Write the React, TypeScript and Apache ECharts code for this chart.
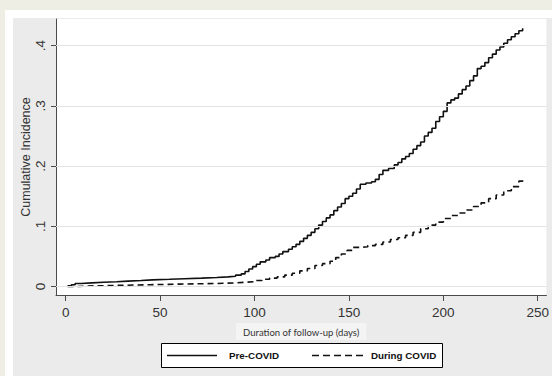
import React, { useEffect, useRef } from "react";
import * as echarts from "echarts";

// Pre-COVID cumulative incidence (day, value)
const preCovidDays = [1, 3, 5, 8, 14, 20, 27, 33, 40, 46, 55, 63, 72, 80, 86, 90, 93, 95, 97, 99, 101, 103, 106, 108, 111, 113, 115, 118, 120, 122, 124, 126, 128, 130, 132, 134, 136, 138, 140, 142, 144, 146, 148, 150, 152, 154, 156, 159, 162, 164, 166, 168, 171, 174, 176, 178, 180, 182, 184, 186, 188, 190, 192, 194, 196, 198, 200, 202, 204, 206, 208, 210, 212, 214, 216, 218, 220, 222, 224, 226, 228, 230, 232, 234, 236, 238, 240, 242];
const preCovidValues = [0.001, 0.003, 0.005, 0.006, 0.007, 0.008, 0.009, 0.010, 0.011, 0.012, 0.013, 0.014, 0.015, 0.016, 0.017, 0.019, 0.021, 0.025, 0.029, 0.033, 0.037, 0.041, 0.044, 0.048, 0.050, 0.054, 0.058, 0.062, 0.066, 0.070, 0.075, 0.080, 0.085, 0.090, 0.096, 0.102, 0.108, 0.114, 0.119, 0.126, 0.132, 0.138, 0.146, 0.150, 0.155, 0.162, 0.170, 0.172, 0.174, 0.178, 0.186, 0.193, 0.196, 0.202, 0.206, 0.212, 0.216, 0.221, 0.228, 0.234, 0.240, 0.250, 0.256, 0.263, 0.274, 0.282, 0.291, 0.305, 0.310, 0.313, 0.320, 0.327, 0.333, 0.342, 0.350, 0.362, 0.366, 0.372, 0.380, 0.386, 0.393, 0.398, 0.404, 0.410, 0.415, 0.420, 0.425, 0.429];

// During COVID cumulative incidence (day, value)
const duringCovidDays = [1, 5, 15, 30, 45, 60, 80, 90, 95, 100, 104, 108, 112, 116, 120, 124, 128, 132, 136, 140, 143, 146, 149, 152, 156, 160, 164, 168, 172, 176, 180, 184, 188, 192, 196, 200, 204, 208, 212, 216, 220, 224, 228, 232, 236, 240, 242];
const duringCovidValues = [0.0, 0.001, 0.002, 0.003, 0.004, 0.005, 0.006, 0.007, 0.008, 0.010, 0.012, 0.014, 0.016, 0.019, 0.022, 0.026, 0.030, 0.035, 0.038, 0.042, 0.048, 0.054, 0.060, 0.065, 0.066, 0.068, 0.070, 0.074, 0.078, 0.081, 0.085, 0.090, 0.096, 0.102, 0.107, 0.113, 0.118, 0.122, 0.127, 0.133, 0.139, 0.146, 0.152, 0.159, 0.166, 0.175, 0.181];

const xTicks = [0, 50, 100, 150, 200, 250];
const yTicks = [0, 0.1, 0.2, 0.3, 0.4];
const yTickLabels = ["0", ".1", ".2", ".3", ".4"];
const seriesNames = ["Pre-COVID", "During COVID"];

export default function App() {
  const ref = useRef<HTMLDivElement>(null);

  useEffect(() => {
    document.body.style.margin = "0";
    if (!ref.current) return;
    const chart = echarts.init(ref.current, null, { renderer: "svg" });
    const axisColor = "#4a4a4a";
    const font = "'Liberation Sans', Arial, sans-serif";
    const legendText = { fontFamily: font, fontWeight: "bold", fontSize: 9.8, fill: "#111", verticalAlign: "middle" };
    chart.setOption({
      animation: false,
      backgroundColor: "transparent",
      grid: { left: 56, top: 19, right: 5, bottom: 81, show: true, backgroundColor: "#ffffff", borderWidth: 0 },
      graphic: [
        {
          type: "rect",
          silent: true,
          shape: { x: 161.5, y: 343.5, width: 281, height: 24 },
          style: { fill: "#ffffff", stroke: "#000", lineWidth: 1 },
        },
        {
          type: "line",
          silent: true,
          shape: { x1: 167, y1: 355.5, x2: 217, y2: 355.5 },
          style: { stroke: "#111", lineWidth: 1.5 },
        },
        { type: "text", silent: true, x: 229, y: 355.5, style: { text: seriesNames[0], ...legendText } },
        {
          type: "line",
          silent: true,
          shape: { x1: 312, y1: 355.5, x2: 366, y2: 355.5 },
          style: { stroke: "#111", lineWidth: 1.5, lineDash: [7, 4] },
        },
        { type: "text", silent: true, x: 371, y: 355.5, style: { text: seriesNames[1], ...legendText } },
      ],
      xAxis: {
        type: "value",
        min: -5.13,
        max: 254.6,
        name: "Duration of follow-up (days)",
        nameLocation: "middle",
        nameGap: 28,
        nameMoveOverlap: false,
        nameTextStyle: {
          fontFamily: "Lato, sans-serif",
          fontSize: 9.5,
          color: "#333",
          backgroundColor: "#f4f4f4",
          padding: [4, 7, 3, 7],
        },
        axisLine: { show: true, onZero: false, lineStyle: { color: axisColor, width: 1 } },
        axisTick: { show: true, length: 6, customValues: xTicks, lineStyle: { color: axisColor } },
        axisLabel: { customValues: xTicks, margin: 10, fontSize: 13.5, fontFamily: font, color: "#333" },
        splitLine: { show: false },
      },
      yAxis: {
        type: "value",
        min: -0.0141,
        max: 0.4444,
        name: "Cumulative Incidence",
        nameLocation: "middle",
        nameGap: 24,
        nameMoveOverlap: false,
        nameTextStyle: { fontFamily: font, fontSize: 12.5, color: "#333" },
        axisLine: { show: true, onZero: false, lineStyle: { color: axisColor, width: 1 } },
        axisTick: { show: true, length: 5, customValues: yTicks, lineStyle: { color: axisColor } },
        axisLabel: {
          customValues: yTicks,
          rotate: 90,
          margin: 9,
          fontSize: 13.5,
          fontFamily: font,
          color: "#333",
          formatter: (v: number) => {
            const i = yTicks.findIndex((t) => Math.abs(t - v) < 1e-9);
            return i >= 0 ? yTickLabels[i] : "";
          },
        },
        splitLine: { show: false },
      },
      series: [
        {
          name: "gridlines",
          type: "line",
          data: [],
          z: 1,
          silent: true,
          markLine: {
            silent: true,
            symbol: ["none", "none"],
            label: { show: false },
            lineStyle: { color: "#e2e2e2", width: 1.2, type: "solid" },
            data: yTicks.map((t) => ({ yAxis: t })),
          },
        },
        {
          name: seriesNames[0],
          type: "line",
          step: "end",
          z: 3,
          showSymbol: false,
          symbol: "none",
          clip: false,
          color: "#111",
          lineStyle: { color: "#111", width: 1.6, type: "solid" },
          data: preCovidDays.map((d, i) => [d, preCovidValues[i]]),
        },
        {
          name: seriesNames[1],
          type: "line",
          step: "end",
          z: 3,
          showSymbol: false,
          symbol: "none",
          clip: false,
          color: "#111",
          lineStyle: { color: "#111", width: 1.6, type: [6, 4] },
          data: duringCovidDays.map((d, i) => [d, duringCovidValues[i]]),
        },
      ],
    });
    return () => chart.dispose();
  }, []);

  return (
    <div style={{ position: "absolute", left: 0, top: 0, width: 552, height: 376, background: "#efeee4", overflow: "hidden" }}>
      <div style={{ position: "absolute", left: 5, top: 10, width: 560, height: 380, background: "#ffffff" }} />
      <div style={{ position: "absolute", left: 13, top: 18, width: 560, height: 380, background: "#ebebeb" }} />
      <div ref={ref} style={{ position: "absolute", left: 0, top: 0, width: 552, height: 376 }} />
    </div>
  );
}
